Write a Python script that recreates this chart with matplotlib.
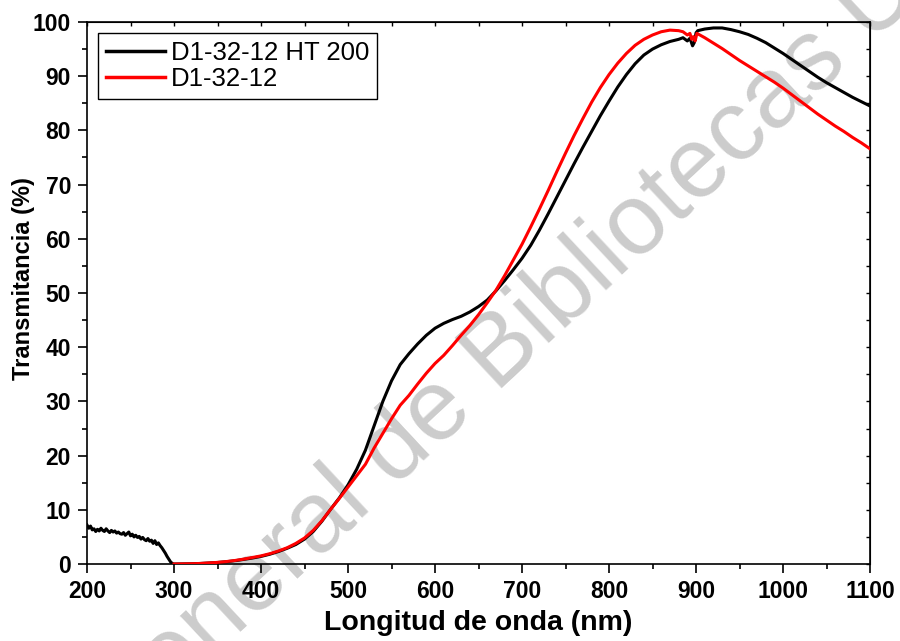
import matplotlib
matplotlib.use("Agg")
import matplotlib.pyplot as plt
from matplotlib.ticker import MultipleLocator

plt.rcParams['font.family'] = ['Liberation Sans', 'DejaVu Sans']

# --- D1-32-12 HT 200 (black) ---
ht_uv_wl = [200, 202, 204, 206, 208, 210, 212, 214, 216, 218, 220, 222, 224, 226, 228,
            230, 232, 234, 236, 238, 240, 242, 244, 246, 248, 250, 252, 254, 256, 258,
            260, 262, 264, 266, 268, 270, 272, 274, 276, 278, 280, 282, 284, 286, 288,
            290, 292, 294, 296, 298]
ht_uv_t = [7.2, 6.6, 7.0, 6.3, 6.5, 6.0, 6.4, 6.1, 6.6, 6.2, 6.0, 6.5, 6.1, 5.8, 6.2,
           5.9, 6.1, 5.7, 5.9, 5.6, 5.5, 5.8, 5.3, 5.6, 5.9, 5.2, 5.5, 5.0, 5.3, 4.9,
           5.1, 4.6, 4.9, 4.5, 4.3, 4.7, 4.2, 4.4, 3.8, 4.3, 3.6, 3.9, 3.4, 3.0, 2.5,
           2.0, 1.4, 0.9, 0.4, 0.1]

ht_wl = [300, 310, 320, 330, 340, 350, 360, 370, 380, 390, 400, 410, 420, 430, 440,
         450, 460, 470, 480, 490, 500, 510, 520, 530, 540, 550, 560, 570, 580, 590,
         600, 610, 620, 630, 640, 650, 660, 670, 680, 690, 700, 710, 720, 730, 740,
         750, 760, 770, 780, 790, 800, 810, 820, 830, 840, 850, 860, 870, 880, 885,
         890, 893, 896, 898, 900, 902, 910, 920, 930, 940, 950, 960, 970, 980, 990,
         1000, 1010, 1020, 1030, 1040, 1050, 1060, 1070, 1080, 1090, 1100]
ht_t = [0.0, 0.02, 0.05, 0.1, 0.18, 0.28, 0.42, 0.6, 0.85, 1.1, 1.4, 1.8, 2.3, 2.9, 3.6,
        4.6, 6.0, 7.9, 10.1, 12.2, 14.6, 17.5, 21.0, 25.5, 30.0, 33.8, 36.8, 38.8, 40.6, 42.2,
        43.5, 44.4, 45.1, 45.7, 46.5, 47.5, 48.7, 50.4, 52.3, 54.3, 56.4, 58.8, 61.6, 64.6, 67.7,
        70.8, 73.9, 76.9, 79.8, 82.7, 85.4, 88.0, 90.3, 92.3, 93.9, 95.0, 95.8, 96.4, 96.8, 97.1,
        96.5, 97.0, 95.6, 96.2, 98.0, 98.4, 98.7, 98.9, 98.9, 98.6, 98.2, 97.7, 97.0, 96.2, 95.2,
        94.2, 93.1, 92.0, 90.9, 89.8, 88.8, 87.9, 87.0, 86.1, 85.3, 84.5]

# --- D1-32-12 (red) ---
as_wl = [300, 310, 320, 330, 340, 350, 360, 370, 380, 390, 400, 410, 420, 430, 440,
         450, 460, 470, 480, 490, 500, 510, 520, 530, 540, 550, 560, 570, 580, 590,
         600, 610, 620, 630, 640, 650, 660, 670, 680, 690, 700, 710, 720, 730, 740,
         750, 760, 770, 780, 790, 800, 810, 820, 830, 840, 850, 860, 870, 880, 885,
         890, 893, 895, 897, 899, 901, 910, 920, 930, 940, 950, 960, 970, 980, 990,
         1000, 1010, 1020, 1030, 1040, 1050, 1060, 1070, 1080, 1090, 1100]
as_t = [0.0, 0.02, 0.05, 0.1, 0.2, 0.3, 0.45, 0.65, 0.9, 1.2, 1.5, 1.9, 2.4, 3.0, 3.8,
        4.8, 6.2, 8.0, 10.1, 12.1, 14.2, 16.3, 18.4, 21.4, 24.1, 26.8, 29.3, 31.1, 33.2, 35.2,
        37.0, 38.5, 40.3, 42.2, 44.0, 46.0, 48.2, 50.5, 53.2, 56.1, 59.0, 62.2, 65.5, 68.9, 72.4,
        75.8, 79.1, 82.2, 85.2, 87.9, 90.3, 92.4, 94.2, 95.7, 96.8, 97.6, 98.2, 98.5, 98.4, 98.2,
        97.6, 97.9, 96.8, 97.3, 96.5, 97.9, 97.1, 96.1, 95.1, 94.0, 92.9, 91.9, 90.9, 89.9, 88.9,
        87.8, 86.6, 85.4, 84.2, 83.0, 81.9, 80.8, 79.8, 78.7, 77.7, 76.6]

fig = plt.figure(figsize=(9.0, 6.41), dpi=100)
fig.patch.set_facecolor('white')
ax = fig.add_axes([0.0967, 0.1201, 0.87, 0.8456])
ax.set_facecolor('none')

# repository watermark, behind the curves
fig.text(0.4541, 0.2596, 'Dirección General de Bibliotecas UAQ', fontsize=72,
         color='#cccccc', rotation=43, rotation_mode='anchor', ha='center',
         va='baseline', zorder=-1)

ax.plot(ht_uv_wl + ht_wl, ht_uv_t + ht_t, color='black', lw=2.2,
        label='D1-32-12 HT 200', zorder=3)
ax.plot(as_wl, as_t, color='#ff0000', lw=2.2, label='D1-32-12', zorder=4)

ax.set_xlim(200, 1100)
ax.set_ylim(0, 100)
ax.xaxis.set_major_locator(MultipleLocator(100))
ax.xaxis.set_minor_locator(MultipleLocator(50))
ax.yaxis.set_major_locator(MultipleLocator(10))
ax.yaxis.set_minor_locator(MultipleLocator(5))

for s in ax.spines.values():
    s.set_linewidth(1.2)

ax.tick_params(which='major', direction='out', length=6.5, width=1.2,
               labelsize=16.5, pad=5)
ax.tick_params(which='minor', direction='out', length=3.5, width=1.2)
for lab in ax.get_xticklabels() + ax.get_yticklabels():
    lab.set_fontweight('bold')

# inward ticks on the top and right edges, no labels
axt = ax.secondary_xaxis('top')
axt.xaxis.set_major_locator(MultipleLocator(100))
axt.xaxis.set_minor_locator(MultipleLocator(50))
axt.tick_params(which='both', direction='in', length=3, width=1.0, labeltop=False)
axr = ax.secondary_yaxis('right')
axr.yaxis.set_major_locator(MultipleLocator(10))
axr.yaxis.set_minor_locator(MultipleLocator(5))
axr.tick_params(which='both', direction='in', length=3, width=1.0, labelright=False)

ax.set_xlabel('Longitud de onda (nm)', fontsize=20.5, fontweight='bold', labelpad=5)
ax.set_ylabel('Transmitancia (%)', fontsize=17, fontweight='bold')
ax.yaxis.set_label_coords(-0.066, 0.527)

leg = ax.legend(loc='upper left', bbox_to_anchor=(0.014, 0.98), borderaxespad=0,
                fontsize=18.5, frameon=True, fancybox=False, framealpha=1,
                edgecolor='black', handlelength=2.3, handletextpad=0.25,
                labelspacing=0.1, borderpad=0.3)
leg.get_frame().set_linewidth(1.0)
for ln in leg.get_lines():
    ln.set_linewidth(2.5)

fig.savefig('out.png', dpi=100, facecolor='white')
